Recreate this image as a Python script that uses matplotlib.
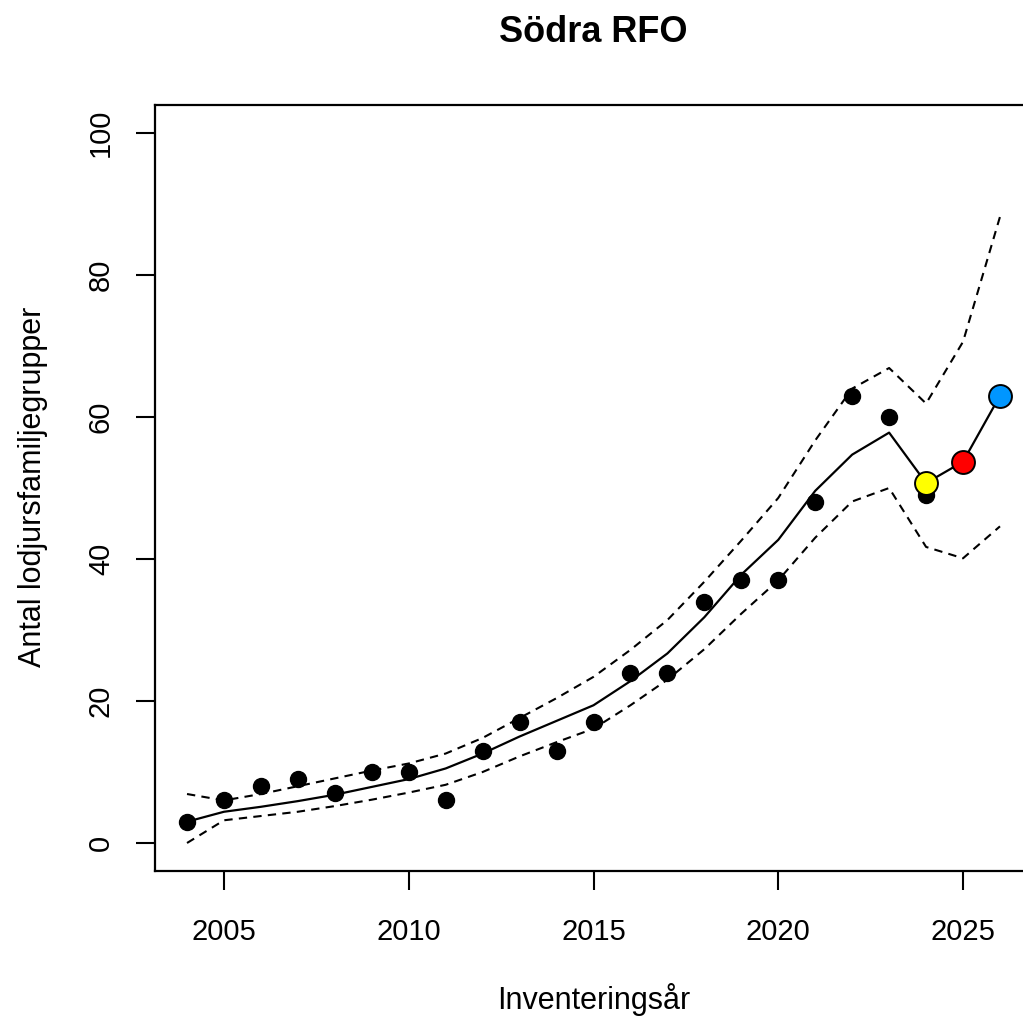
import matplotlib
matplotlib.use("Agg")
import matplotlib.pyplot as plt

plt.rcParams['font.family'] = ['Liberation Sans', 'DejaVu Sans']

title = "Södra RFO"
xlabel = "Inventeringsår"
ylabel = "Antal lodjursfamiljegrupper"

obs_years = list(range(2004, 2025))
obs_counts = [3, 6, 8, 9, 7, 10, 10, 6, 13, 17, 13, 17, 24, 24, 34, 37, 37, 48, 63, 60, 49]

fit_years = list(range(2004, 2027))
fit_mean = [3.0, 4.4, 5.1, 5.9, 6.8, 7.9, 9.0, 10.5, 12.6, 15.0, 17.2, 19.4, 22.8, 26.7, 31.8, 37.8, 42.7, 49.6, 54.7, 57.8, 50.7, 53.7, 63.0]
fit_upper = [6.9, 6.0, 6.9, 8.0, 9.1, 10.2, 11.2, 12.6, 14.8, 17.6, 20.4, 23.4, 27.2, 31.4, 36.8, 42.6, 48.6, 56.7, 64.0, 66.9, 61.9, 70.6, 88.2]
fit_lower = [0.0, 3.2, 3.8, 4.4, 5.2, 6.1, 7.1, 8.2, 10.0, 12.2, 14.2, 16.1, 19.4, 23.0, 27.3, 32.3, 37.0, 43.0, 48.1, 50.0, 41.7, 40.1, 44.6]

pred_years = [2024, 2025, 2026]
pred_values = [50.7, 53.7, 63.0]
pred_colors = ["#ffff00", "#ff0000", "#0096ff"]

xticks = [2005, 2010, 2015, 2020, 2025]
yticks = [0, 20, 40, 60, 80, 100]

W, H = 1023, 1019
fig = plt.figure(figsize=(W / 100, H / 100), dpi=100)
left, right = 154.5, 1032.5
top, bottom = 104.6, 871.4
ax = fig.add_axes([left / W, 1 - bottom / H, (right - left) / W, (bottom - top) / H])

ax.plot(fit_years, fit_upper, color="black", lw=1.5, linestyle=(0, (4.0, 3.0)))
ax.plot(fit_years, fit_lower, color="black", lw=1.5, linestyle=(0, (4.0, 3.0)))
ax.plot(fit_years, fit_mean, color="black", lw=1.6)
ax.plot(obs_years, obs_counts, "o", color="black", ms=11.5, mec="black")
for yr, v, c in zip(pred_years, pred_values, pred_colors):
    ax.plot([yr], [v], "o", color=c, ms=16.5, mec="black", mew=1.4)

ax.set_xlim(2003.12, 2026.88)
ax.set_ylim(-4, 104)
ax.set_xticks(xticks)
ax.set_yticks(yticks)
ax.set_xticklabels([str(t) for t in xticks])
ax.set_yticklabels([str(t) for t in yticks], rotation=90, va="center")
ax.tick_params(axis="both", length=13.5, width=1.5, labelsize=21, color="black")
ax.tick_params(axis="x", pad=20)
ax.tick_params(axis="y", pad=15)
for s in ax.spines.values():
    s.set_linewidth(1.6)

cx = (left + right) / 2 / W
fig.text(cx, 1 - 32 / H, title, ha="center", va="center", fontsize=26, fontweight="bold")
fig.text(cx, 1 - 1000 / H, xlabel, ha="center", va="center", fontsize=22)
fig.text(33 / W, 1 - 487 / H, ylabel, ha="center", va="center", rotation=90, fontsize=22)

fig.savefig("out.png", dpi=100)
